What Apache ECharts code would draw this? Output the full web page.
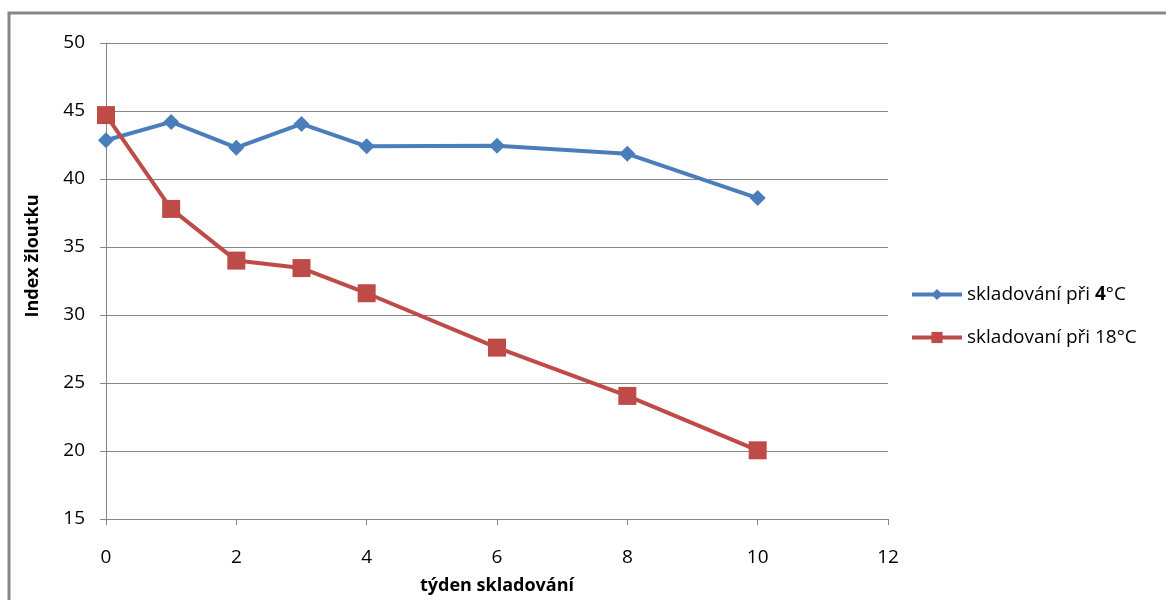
<!DOCTYPE html>
<html><head><meta charset="utf-8">
<script src="https://cdn.jsdelivr.net/npm/echarts@6/dist/echarts.min.js"></script>
<style>html,body{margin:0;padding:0;background:#fff}#c{width:1166px;height:600px}</style>
</head><body><div id="c"></div>
<script>
const weeks = [0, 1, 2, 3, 4, 6, 8, 10];
const series4C = [42.85, 44.2, 42.3, 44.05, 42.4, 42.45, 41.85, 38.6];
const series18C = [44.7, 37.8, 34.0, 33.45, 31.6, 27.6, 24.05, 20.05];
const seriesNames = ['skladování při 4°C', 'skladovaní při 18°C'];
const xTitle = 'týden skladování';
const yTitle = 'Index žloutku';

const font = '"Open Sans", Lato, sans-serif';
const chart = echarts.init(document.getElementById('c'));
chart.setOption({
  animation: false,
  backgroundColor: '#fff',
  grid: { left: 106, top: 43, width: 782, height: 476 },
  xAxis: {
    type: 'value', min: 0, max: 12, interval: 2,
    name: xTitle, nameLocation: 'middle', nameGap: 58,
    nameTextStyle: { fontFamily: font, fontSize: 18, fontWeight: 'bold', color: '#000' },
    axisLine: { show: true, lineStyle: { color: '#868686', width: 1 } },
    axisTick: { show: true, length: 6, lineStyle: { color: '#868686' } },
    axisLabel: { margin: 29, fontFamily: font, fontSize: 19, color: '#000' },
    splitLine: { show: false }
  },
  yAxis: {
    type: 'value', min: 15, max: 50, interval: 5,
    axisLine: { show: true, lineStyle: { color: '#868686', width: 1 } },
    axisTick: { show: true, length: 6, lineStyle: { color: '#868686' } },
    axisLabel: { margin: 21, fontFamily: font, fontSize: 19, color: '#000' },
    splitLine: { show: true, lineStyle: { color: '#868686', width: 1 } }
  },
  legend: {
    orient: 'vertical', left: 905, top: 280, itemGap: 24,
    itemWidth: 50, itemHeight: 14,
    lineStyle: { width: 4 },
    textStyle: { fontFamily: font, fontSize: 19, color: '#000',
      rich: { b: { fontFamily: font, fontSize: 19, fontWeight: 'bold', color: '#000' } } },
    formatter: function (n) { return n === seriesNames[0] ? 'skladování při {b|4}°C' : n; },
    data: seriesNames
  },
  graphic: [
    { type: 'rect', shape: { x: 9, y: 13, width: 1300, height: 700 }, style: { fill: 'none', stroke: '#878787', lineWidth: 3 }, silent: true },
    { type: 'text', x: 33, y: 256, rotation: Math.PI / 2,
      style: { text: yTitle, font: 'bold 18px ' + font, fill: '#000', align: 'center', verticalAlign: 'middle' } }
  ],
  series: [
    { name: seriesNames[0], type: 'line', data: weeks.map((w, i) => [w, series4C[i]]),
      symbol: 'diamond', symbolSize: 16, color: '#4a7ebb',
      lineStyle: { width: 4, color: '#4a7ebb' }, itemStyle: { color: '#4a7ebb' } },
    { name: seriesNames[1], type: 'line', data: weeks.map((w, i) => [w, series18C[i]]),
      symbol: 'rect', symbolSize: 18, color: '#be4b48',
      lineStyle: { width: 4, color: '#be4b48' }, itemStyle: { color: '#be4b48' } }
  ]
});
</script></body></html>
